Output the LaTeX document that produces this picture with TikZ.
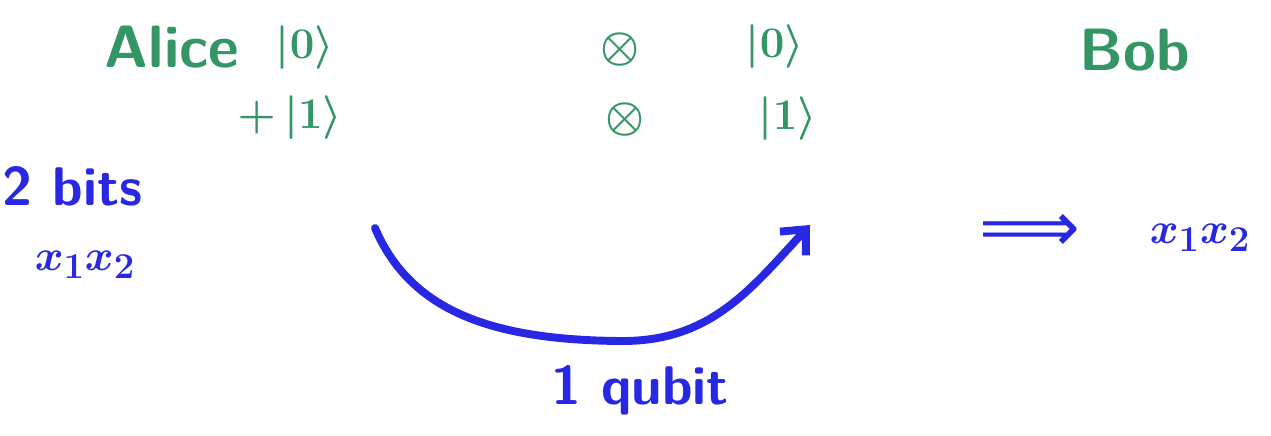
\documentclass[tikz,border=0pt]{standalone}
\usepackage{fontspec}
\newfontfamily\arrowfont{DejaVu Sans}
\usetikzlibrary{arrows.meta}
\definecolor{penGreen}{RGB}{52,150,100}
\definecolor{penBlue}{RGB}{40,40,228}
\begin{document}
\begin{tikzpicture}[
	gtxt/.style={text=penGreen, font=\sffamily\bfseries\boldmath\fontsize{34}{40}\selectfont},
	btxt/.style={text=penBlue, font=\sffamily\bfseries\boldmath\fontsize{31}{37}\selectfont},
	pen/.style={draw=penBlue, line width=4.5pt, line cap=round}]
	\useasboundingbox (0,0) rectangle (25.42,-8.72);
	% top row
	\node[gtxt] (alice) at (3.44,-0.94) {Alice};
	\node[gtxt] (k0a) at (6.1,-0.96) {$|0\rangle$};
	\node[gtxt] (t1) at (12.4,-1.0) {$\otimes$};
	\node[gtxt] (k0b) at (15.5,-0.94) {$|0\rangle$};
	\node[gtxt] (bob) at (22.7,-1.0) {Bob};
	% second row
	\node[gtxt] (k1a) at (5.8,-2.36) {$+\,|1\rangle$};
	\node[gtxt] (t2) at (12.5,-2.4) {$\otimes$};
	\node[gtxt] (k1b) at (15.76,-2.38) {$|1\rangle$};
	% bits
	\node[btxt] (bits) at (1.45,-3.72) {2 bits};
	\node[btxt] (xa) at (1.7,-5.3) {$x_1 x_2$};
	\node[btxt, font=\arrowfont\fontsize{40}{40}\selectfont] (imp) at (20.6,-4.66) {⟹};
	\node[btxt] (xb) at (24.0,-4.76) {$x_1 x_2$};
	\node[btxt] (qb) at (12.8,-7.8) {1 qubit};
	% the qubit sent
	\coordinate (qs) at (7.5,-4.56);
	\coordinate (qm) at (12.4,-6.82);
	\coordinate (qe) at (16.2,-4.5);
	\draw[pen, -{Straight Barb[length=11pt, width=20pt, line width=4.5pt]}]
		(qs) .. controls (8.2,-6.2) and (9.8,-6.8) .. (qm)
		.. controls (14.2,-6.84) and (15.0,-5.8) .. (qe);
\end{tikzpicture}
\end{document}
